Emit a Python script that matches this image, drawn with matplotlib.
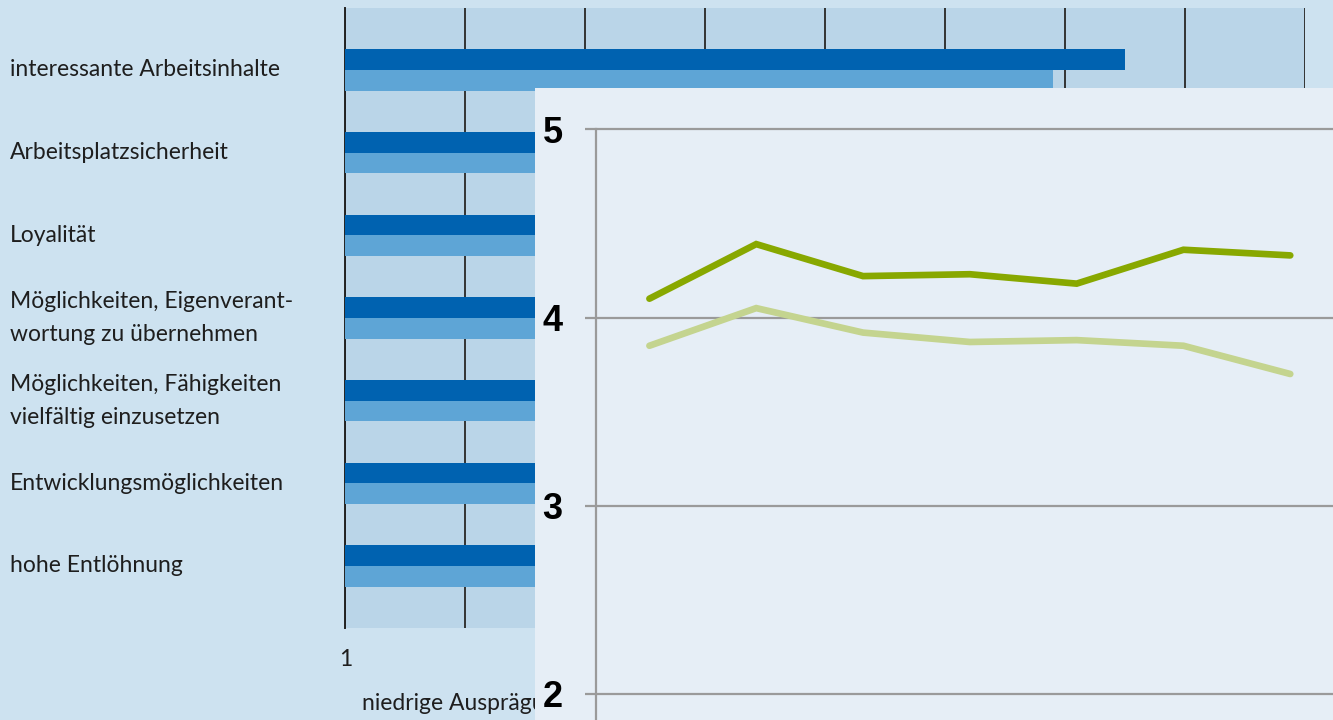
import matplotlib.pyplot as plt
import matplotlib.transforms as mtransforms
import numpy as np

# bar chart (background)
categories = ['interessante Arbeitsinhalte', 'Arbeitsplatzsicherheit', 'Loyalität',
              'Möglichkeiten, Eigenverant-\nwortung zu übernehmen',
              'Möglichkeiten, Fähigkeiten\nvielfältig einzusetzen',
              'Entwicklungsmöglichkeiten', 'hohe Entlöhnung']
bar_dark = [4.25, 4.05, 3.95, 3.85, 3.80, 3.55, 3.30]
bar_light = [3.95, 4.10, 3.90, 3.75, 3.70, 3.45, 3.40]

# line chart (inset)
line_x = [0, 1, 2, 3, 4, 5, 6]
line_dark = [4.10, 4.39, 4.22, 4.23, 4.18, 4.36, 4.33]
line_light = [3.85, 4.05, 3.92, 3.87, 3.88, 3.85, 3.70]
inset_ticks = [2, 3, 4, 5]

W, H = 1333, 720
fig = plt.figure(figsize=(W / 100, H / 100), dpi=100, facecolor='#cde2f0')

# --- background bar chart ---
ax = fig.add_axes([345 / W, (H - 628) / H, 960 / W, 620 / H], facecolor='#bad5e8')
y = np.arange(len(categories))
ax.barh(y - 0.125, bar_dark, height=0.25, color='#0062b0', zorder=3)
ax.barh(y + 0.125, bar_light, height=0.25, color='#5ea5d6', zorder=3)
ax.set_xlim(1, 5)
ax.set_ylim(6.75, -0.75)
ax.set_xticks(np.arange(1, 5.01, 0.5))
ax.xaxis.grid(True, color='#333333', linewidth=1.4, zorder=1)
ax.set_axisbelow(True)
for s in ['top', 'right', 'bottom']:
    ax.spines[s].set_visible(False)
ax.spines['left'].set_color('#222222')
ax.spines['left'].set_linewidth(1.4)
ax.tick_params(axis='x', length=0, labelbottom=False)
ax.set_yticks([])

lab_font = 'Lato'
lab_col = '#1e1e1e'
# labels: x in figure coords, y at the category position
trans = mtransforms.blended_transform_factory(fig.transFigure, ax.transData)
for yi, lab in zip(y, categories):
    ax.text(10 / W, yi, lab, transform=trans, fontsize=16.5, family=lab_font,
            color=lab_col, va='center', ha='left', linespacing=1.7, clip_on=False)

# these sit under the inset, so draw them in the bar axes
ax.text(346 / W, 1 - 660 / H, '1', transform=fig.transFigure, fontsize=16.5,
        family=lab_font, color=lab_col, ha='center', va='center', clip_on=False)
ax.text(362 / W, 1 - 703 / H, 'niedrige Ausprägung', transform=fig.transFigure,
        fontsize=16.5, family=lab_font, color=lab_col, ha='left', va='center', clip_on=False)

# --- inset background ---
bg = fig.add_axes([535 / W, 0, (W - 535) / W, (H - 88) / H], facecolor='#e6eef6')
bg.set_xticks([])
bg.set_yticks([])
for s in bg.spines.values():
    s.set_visible(False)

# --- inset line chart ---
ymin = 2 - (720 - 694) / 188.2
ax2 = fig.add_axes([596 / W, 0, (W - 596) / W, (H - 127.4) / H])
ax2.patch.set_visible(False)
ax2.plot(line_x, line_dark, color='#88a800', linewidth=4.8, solid_capstyle='round',
         solid_joinstyle='miter', zorder=3)
ax2.plot(line_x, line_light, color='#c4d48f', linewidth=4.8, solid_capstyle='round',
         solid_joinstyle='miter', zorder=3)
ax2.set_ylim(ymin, 5.01)
ax2.set_xlim(-0.5, 6.4)
ax2.set_yticks(inset_ticks)
ax2.set_yticklabels([str(t) for t in inset_ticks], fontsize=26, fontweight='bold',
                    family='Liberation Sans', color='black')
ax2.yaxis.grid(True, color='#9a9a9a', linewidth=1.6)
ax2.tick_params(axis='y', length=8, width=1.6, color='#9a9a9a', pad=16)
ax2.set_xticks([])
for s in ['top', 'right', 'bottom']:
    ax2.spines[s].set_visible(False)
ax2.spines['left'].set_color('#9a9a9a')
ax2.spines['left'].set_linewidth(1.6)
ax2.spines['left'].set_bounds(ymin, 5)

fig.savefig('out.png', dpi=100, facecolor=fig.get_facecolor())
